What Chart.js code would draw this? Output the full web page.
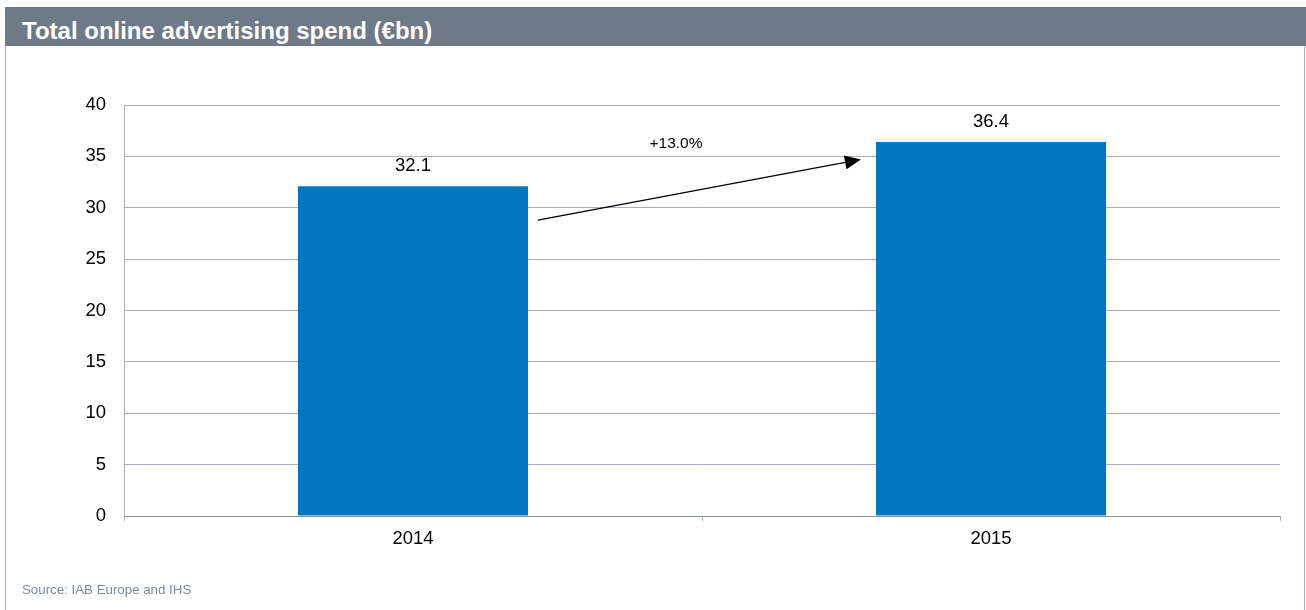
<!DOCTYPE html>
<html><head><meta charset="utf-8">
<script src="https://cdn.jsdelivr.net/npm/chart.js@4/dist/chart.umd.min.js"></script>
<style>
html,body{margin:0;padding:0;background:#fff;}
#wrap{position:relative;width:1306px;height:610px;overflow:hidden;font-family:"Liberation Sans",Arial,sans-serif;}
#frame{position:absolute;left:5px;top:7px;width:1298px;height:620px;border-left:1px solid #A9B0BC;border-right:1px solid #A9B0BC;}
#hdr{position:absolute;left:5px;top:7px;width:1301px;height:39px;background:#6F7A89;color:#fff;font-weight:bold;font-size:24px;line-height:39px;box-sizing:border-box;padding-left:17px;padding-top:4px;white-space:nowrap;}
#src{position:absolute;left:22px;top:582px;font-size:13.3px;color:#7F8A99;}
canvas{position:absolute;left:0;top:0;}
</style></head><body>
<div id="wrap">
<div id="frame"></div>
<div id="hdr">Total online advertising spend (€bn)</div>
<canvas id="c" width="1306" height="610"></canvas>
<div id="src">Source: IAB Europe and IHS</div>
</div>
<script>
const categories = ["2014", "2015"];
const spend = [32.1, 36.4];
const growthLabel = "+13.0%";
const arrowFrom = [0.216, 28.8];
const arrowTo = [0.775, 34.7];
const labelAt = [0.455, 36.2];

const FONT = '"Liberation Sans", Arial, sans-serif';
const overlay = {
  id: 'overlay',
  afterDatasetsDraw(chart) {
    const ctx = chart.ctx, x = chart.scales.x, y = chart.scales.y;
    const meta = chart.getDatasetMeta(0);
    ctx.save();
    ctx.fillStyle = '#000';
    ctx.font = '18.5px ' + FONT;
    ctx.textAlign = 'center';
    ctx.textBaseline = 'middle';
    meta.data.forEach((b, i) => {
      ctx.fillText(spend[i].toFixed(1), b.x, b.y - 20);
    });
    const x1 = x.getPixelForValue(arrowFrom[0]), y1 = y.getPixelForValue(arrowFrom[1]);
    const x2 = x.getPixelForValue(arrowTo[0]), y2 = y.getPixelForValue(arrowTo[1]);
    const ang = Math.atan2(y2 - y1, x2 - x1);
    const hl = 16, hw = 7;
    const bx = x2 - hl * Math.cos(ang), by = y2 - hl * Math.sin(ang);
    ctx.strokeStyle = '#000';
    ctx.lineWidth = 1.2;
    ctx.beginPath(); ctx.moveTo(x1, y1); ctx.lineTo(bx, by); ctx.stroke();
    ctx.beginPath();
    ctx.moveTo(x2, y2);
    ctx.lineTo(bx + hw * Math.sin(ang), by - hw * Math.cos(ang));
    ctx.lineTo(bx - hw * Math.sin(ang), by + hw * Math.cos(ang));
    ctx.closePath(); ctx.fill();
    ctx.font = '15.5px ' + FONT;
    ctx.fillText(growthLabel, x.getPixelForValue(labelAt[0]), y.getPixelForValue(labelAt[1]));
    ctx.restore();
  }
};

new Chart(document.getElementById('c'), {
  type: 'bar',
  data: { labels: categories, datasets: [{ data: spend, backgroundColor: '#0077C0', categoryPercentage: 0.398, barPercentage: 1.0 }] },
  options: {
    responsive: false, animation: false, devicePixelRatio: 1,
    layout: { padding: { left: 0, top: 105, right: 26, bottom: 0 } },
    plugins: { legend: { display: false }, tooltip: { enabled: false } },
    scales: {
      y: {
        min: 0, max: 40,
        ticks: { stepSize: 5, color: '#000', padding: 18, font: { family: FONT, size: 18.5 } },
        grid: { color: '#A9B0BC', drawTicks: false, lineWidth: 1 },
        border: { color: '#A9B0BC', width: 1 },
        afterFit(s) { s.width = 124; }
      },
      x: {
        ticks: { color: '#000', padding: 7, font: { family: FONT, size: 18.5 } },
        grid: { offset: true, drawOnChartArea: false, drawTicks: true, tickLength: 5, color: '#A9B0BC' },
        border: { color: '#8C95A3', width: 1 },
        afterFit(s) { s.height = 94; }
      }
    }
  },
  plugins: [overlay]
});
</script>
</body></html>
